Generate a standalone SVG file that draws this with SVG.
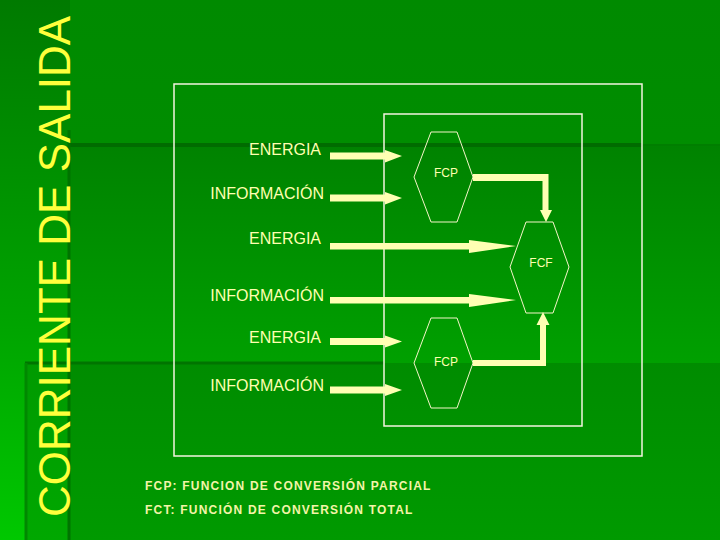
<svg xmlns="http://www.w3.org/2000/svg" width="720" height="540" viewBox="0 0 720 540">
<defs>
<linearGradient id="gBase" x1="0" y1="0" x2="0" y2="1"><stop offset="0" stop-color="#008a00"/><stop offset="1" stop-color="#009600"/></linearGradient>
<linearGradient id="gMid" x1="0" y1="0" x2="0" y2="1"><stop offset="0" stop-color="#008200"/><stop offset="1" stop-color="#00a000"/></linearGradient>
<linearGradient id="gLow" x1="0" y1="0" x2="0" y2="1"><stop offset="0" stop-color="#008c00"/><stop offset="1" stop-color="#009a00"/></linearGradient>
<linearGradient id="gLeft" x1="0" y1="0" x2="0" y2="1"><stop offset="0" stop-color="#007a00"/><stop offset="0.6" stop-color="#00a400"/><stop offset="1" stop-color="#00c800"/></linearGradient>
<linearGradient id="gLeft2" x1="0" y1="0" x2="0" y2="1"><stop offset="0" stop-color="#009a00"/><stop offset="1" stop-color="#00a800"/></linearGradient>
</defs>
<style>
.frame{fill:none;stroke:#f4f4e0;stroke-width:1.5}
.hex{fill:none;stroke:#f4f4c8;stroke-width:1}
.lbl{font-family:"Liberation Sans",Arial,sans-serif;font-size:16px;fill:#ffffb0;text-anchor:end}
.fc{font-family:"Liberation Sans",Arial,sans-serif;font-size:12px;fill:#ffffb0;text-anchor:middle}
.leg{font-family:"Liberation Sans",Arial,sans-serif;font-size:12px;font-weight:bold;fill:#f4f4a8;letter-spacing:1.2px}
.title{font-family:"Liberation Sans",Arial,sans-serif;font-size:44px;fill:#ffff3c}
.arr{fill:#ffffb3}
</style>
<g id="background">
<rect x="0" y="0" width="720" height="540" fill="url(#gBase)"/>
<rect x="70" y="145" width="650" height="218" fill="url(#gMid)"/>
<rect x="70" y="363" width="650" height="177" fill="url(#gLow)"/>
<rect x="0" y="0" width="70" height="540" fill="url(#gLeft)"/>
<rect x="25" y="363" width="45" height="177" fill="url(#gLeft2)"/>
<line x1="70" y1="145" x2="642" y2="145" stroke="#006c00" stroke-width="4"/>
<line x1="642" y1="145" x2="720" y2="145" stroke="#007e00" stroke-width="2"/>
<line x1="25" y1="363" x2="384" y2="363" stroke="#007400" stroke-width="3"/>
<line x1="69" y1="130" x2="69" y2="540" stroke="#007400" stroke-width="3"/>
<line x1="26" y1="363" x2="26" y2="540" stroke="#008800" stroke-width="3"/>
</g>
<text class="title" transform="translate(70,517) rotate(-90)">CORRIENTE DE SALIDA</text>
<g id="frames">
<rect class="frame" x="174" y="84" width="468" height="372"/>
<rect class="frame" x="384" y="114" width="198" height="312"/>
</g>
<g id="inputs">
<text class="lbl" x="321" y="155">ENERGIA</text>
<text class="lbl" x="324" y="199">INFORMACIÓN</text>
<text class="lbl" x="321" y="244">ENERGIA</text>
<text class="lbl" x="324" y="301">INFORMACIÓN</text>
<text class="lbl" x="321" y="343">ENERGIA</text>
<text class="lbl" x="324" y="391">INFORMACIÓN</text>
</g>
<g id="fcp1">
<polygon class="hex" points="431,132 457,132 473,177 457,222 431,222 414,177"/>
<text class="fc" x="446" y="177">FCP</text>
</g>
<g id="fcf">
<polygon class="hex" points="526,222 553,222 569,267 553,313 526,313 510,267"/>
<text class="fc" x="541" y="267">FCF</text>
</g>
<g id="fcp2">
<polygon class="hex" points="431,318 457,318 473,363 457,408 431,408 414,363"/>
<text class="fc" x="446" y="366">FCP</text>
</g>
<g id="connectors">
<path class="arr" d="M330,152.5 H385 V150 L402,156 L385,162.5 V159.5 H330 Z"/>
<path class="arr" d="M330,194.5 H385 V192 L402,198 L385,204.5 V201.5 H330 Z"/>
<path class="arr" d="M330,243 H469 V240 L516,246 L469,253 V249.5 H330 Z"/>
<path class="arr" d="M330,297 H469 V294 L516,300 L469,307 V303.5 H330 Z"/>
<path class="arr" d="M330,338 H385 V335.5 L402,341.5 L385,347.5 V345 H330 Z"/>
<path class="arr" d="M330,386.5 H385 V384 L402,390 L385,396 V393.5 H330 Z"/>
<path class="arr" d="M473,174 H548.5 V210 H552 L546,222 L540,210 H542.5 V181 H473 Z"/>
<path class="arr" d="M473,366 H546 V325 H549.5 L543,312 L536.5,325 H540 V360 H473 Z"/>
</g>
<g id="legend">
<text class="leg" x="145" y="490">FCP: FUNCION DE CONVERSIÓN PARCIAL</text>
<text class="leg" x="145" y="514">FCT: FUNCIÓN DE CONVERSIÓN TOTAL</text>
</g>
</svg>
